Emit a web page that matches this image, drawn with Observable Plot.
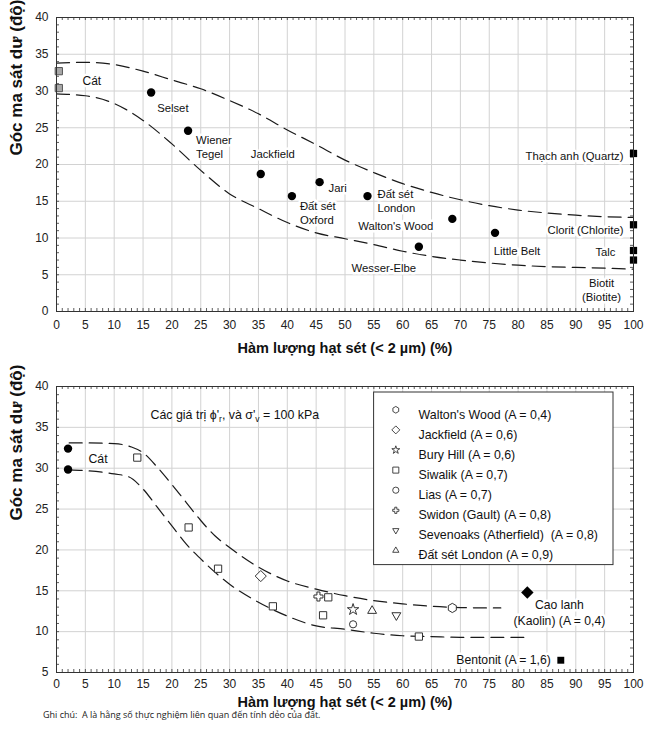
<!DOCTYPE html>
<html><head><meta charset="utf-8">
<script src="https://cdn.jsdelivr.net/npm/d3@7"></script>
<script src="https://cdn.jsdelivr.net/npm/@observablehq/plot@0.6"></script>
<style>
body{margin:0;background:#fff;}
#note{font-family:"Open Sans","Noto Sans",sans-serif;font-size:9px;margin:0 0 0 43px;line-height:14px;color:#222;white-space:pre;}
</style></head><body>
<div id="top"></div><div id="bottom"></div>
<div id="note">Ghi chú:  A là hằng số thực nghiệm liên quan đến tính dẻo của đất.</div>
<script>
// ---------------- DATA: top chart ----------------
const xTicks = [0,5,10,15,20,25,30,35,40,45,50,55,60,65,70,75,80,85,90,95,100];
const topYTicks = [0,5,10,15,20,25,30,35,40];
const botYTicks = [5,10,15,20,25,30,35,40];
const xTitle = "Hàm lượng hạt sét (< 2 µm) (%)";
const yTitle = "Góc ma sát dư (độ)";

const sandTopX = [0.4, 0.4];
const sandTopY = [32.7, 30.4];
const soilNames = ["Selset","Wiener Tegel","Jackfield","Đất sét Oxford","Jari","Đất sét London","Walton's Wood","Wesser-Elbe","Little Belt"];
const soilLabels = ["Selset","Wiener\nTegel","Jackfield","Đất sét\nOxford","Jari","Đất sét\nLondon","Walton's Wood","Wesser-Elbe","Little Belt"];
const soilClay = [16.4, 22.8, 35.4, 40.8, 45.6, 53.9, 68.6, 62.8, 76.0];
const soilPhi  = [29.8, 24.6, 18.7, 15.7, 17.6, 15.7, 12.6, 8.8, 10.7];
const mineralLabels = ["Thạch anh (Quartz)","Clorit (Chlorite)","Talc","Biotit\n(Biotite)"];
const mineralClay = [100, 100, 100, 100];
const mineralPhi  = [21.5, 11.8, 8.3, 7.0];

const topUpperX = [0,5,10,15,20,25,30,35,40,45,50,55,60,65,70,75,80,85,90,95,100];
const topUpperY = [33.8,33.9,33.6,32.7,31.5,30.3,28.7,26.9,24.7,22.7,20.6,18.9,17.4,16.2,15.2,14.4,13.8,13.4,13.1,12.9,12.8];
const topLowerX = [0,5,10,15,20,25,30,35,40,45,50,55,60,65,70,75,80,85,90,95,100];
const topLowerY = [29.6,29.35,28.3,26.0,22.8,19.2,16.0,14.0,12.1,10.7,9.9,9.1,8.2,7.5,7.0,6.6,6.3,6.1,6.0,5.9,5.75];

// ---------------- DATA: bottom chart ----------------
const sandBotX = [2.0, 2.0];
const sandBotY = [32.4, 29.85];
const seriesNames = ["Walton's Wood","Jackfield","Bury Hill","Siwalik","Lias","Swidon (Gault)","Sevenoaks (Atherfield)","Đất sét London"];
const seriesA = ["0,4","0,6","0,6","0,7","0,7","0,8","0,8","0,9"];
const seriesX = [[68.6],[35.4],[51.4],[14.0,22.9,28.0,37.5,46.2,47.1,62.8],[51.4],[45.4],[58.9],[54.7]];
const seriesY = [[12.9],[16.8],[12.7],[31.3,22.75,17.7,13.1,12.0,14.2,9.4],[10.9],[14.3],[12.0],[12.55]];
const kaolinX = [81.6], kaolinY = [14.8];
const bentoniteX = [87.4], bentoniteY = [6.5];
const kaolinLabel = "Cao lanh\n(Kaolin) (A = 0,4)";
const bentoniteLabel = "Bentonit (A = 1,6)";
const sandLabel = "Cát";
const noteText = "Các giá trị ϕ'_r, và σ'_v = 100 kPa";

const botUpperX = [2.2,5,10,13,15,17.5,20,22.5,25,27.5,30,35,40,45,50,55,60,65,70,75,77];
const botUpperY = [33.1,33.1,33.0,32.6,31.9,30.1,28.0,25.8,23.6,21.7,20.3,17.9,16.2,15.2,14.4,13.8,13.4,13.1,12.95,12.9,12.9];
const botLowerX = [2.2,5,10,12.5,15,17.5,20,22.5,25,27.5,30,35,40,45,50,55,60,65,70,75,81];
const botLowerY = [29.8,29.7,29.3,28.95,27.45,25.2,22.95,20.7,18.9,17.25,15.8,13.6,11.9,10.7,10.3,9.8,9.5,9.4,9.3,9.3,9.3];

// ---------------- STYLE / LAYOUT ----------------
const FONT = '"Liberation Sans", Arial, Helvetica, sans-serif';
const W = 661;
const triangleDown = {
  draw(context, size) {
    const s3 = Math.sqrt(3);
    const y = -Math.sqrt(size / (s3 * 3));
    context.moveTo(0, -y * 2);
    context.lineTo(-s3 * y, y);
    context.lineTo(s3 * y, y);
    context.closePath();
  }
};
const seriesSymbol = ["hexagon","diamond2","star","square","circle","cross",triangleDown,"triangle"];
const seriesR = [4.0, 5.0, 3.6, 4.1, 3.6, 3.8, 3.3, 3.3];
const legendR = [2.9, 3.6, 2.5, 3.4, 3.1, 2.6, 2.3, 2.3];

const halo = {stroke: "white", strokeWidth: 5, fill: "#111", fontSize: 11.3, lineHeight: 1.25};
const topLabelPos = {
  "Selset": {dx: 6, dy: 15, a: "start"},
  "Wiener Tegel": {dx: 8, dy: 15.5, a: "start"},
  "Jackfield": {dx: 12, dy: -20.4, a: "middle"},
  "Đất sét Oxford": {dx: 8, dy: 16.4, a: "start"},
  "Jari": {dx: 9, dy: 5, a: "start"},
  "Đất sét London": {dx: 10, dy: 4.2, a: "start"},
  "Walton's Wood": {dx: -56.5, dy: 6.5, a: "middle"},
  "Wesser-Elbe": {dx: -35, dy: 20.8, a: "middle"},
  "Little Belt": {dx: 22, dy: 18, a: "middle"}
};
const mineralPos = [
  {dx: -10, dy: 1.5, a: "end"},
  {dx: -10, dy: 4.5, a: "end"},
  {dx: -18, dy: 1.2, a: "end"},
  {dx: -32, dy: 29, a: "middle"}
];

function edgeTicks(xs, ys, iw, ih, len) {
  const o = {stroke: "#333", strokeWidth: 0.8};
  return [
    Plot.ruleX(xs, {x: d => d, insetTop: ih - len, ...o}),
    Plot.ruleX(xs, {x: d => d, insetBottom: ih - len, ...o}),
    Plot.ruleY(ys, {y: d => d, insetRight: iw - len, ...o}),
    Plot.ruleY(ys, {y: d => d, insetLeft: iw - len, ...o})
  ];
}
const dash = {stroke: "#1a1a1a", strokeWidth: 1.2, strokeDasharray: "13,7", curve: "monotone-x"};
const gridStyle = {stroke: "#d2d2d2", strokeOpacity: 1, strokeWidth: 1};

// ---------------- TOP CHART ----------------
{
  const H = 362, mt = 17, mb = 51, ml = 56, mr = 28;
  const iw = W - ml - mr, ih = H - mt - mb;
  const idx = soilNames.map((_, i) => i);
  const midx = mineralLabels.map((_, i) => i);
  const upper = topUpperX.map((x, i) => ({x, y: topUpperY[i]}));
  const lower = topLowerX.map((x, i) => ({x, y: topLowerY[i]}));
  const chart = Plot.plot({
    width: W, height: H, marginLeft: ml, marginRight: mr, marginTop: mt, marginBottom: mb,
    x: {domain: [0, 100]}, y: {domain: [0, 40]},
    style: {fontFamily: FONT, fontSize: "12px", color: "#222", background: "#fff", overflow: "visible"},
    marks: [
      Plot.gridX(xTicks, gridStyle),
      Plot.gridY(topYTicks, gridStyle),
      ...edgeTicks(d3.range(0, 101, 1), d3.range(0, 41, 1), iw, ih, 3),
      Plot.axisX({ticks: xTicks, tickSize: 0, tickPadding: 8.5, label: null, fontSize: 12}),
      Plot.axisY({ticks: topYTicks, tickSize: 0, tickPadding: 8, label: null, fontSize: 12}),
      Plot.line(upper, {x: "x", y: "y", ...dash}),
      Plot.line(lower, {x: "x", y: "y", ...dash}),
      ...idx.map(i => Plot.text([i], {x: i => soilClay[i], y: i => soilPhi[i], text: i => soilLabels[i],
        dx: topLabelPos[soilNames[i]].dx, dy: topLabelPos[soilNames[i]].dy, textAnchor: topLabelPos[soilNames[i]].a, ...halo})),
      ...midx.map(i => Plot.text([i], {x: i => mineralClay[i], y: i => mineralPhi[i], text: i => mineralLabels[i],
        dx: mineralPos[i].dx, dy: mineralPos[i].dy, textAnchor: mineralPos[i].a, ...halo})),
      Plot.text([0], {x: i => sandTopX[i], y: i => sandTopY[i], text: () => sandLabel, dx: 33, dy: 9, textAnchor: "middle", ...halo, fontSize: 12}),
      Plot.dot(sandTopX.map((_, i) => i), {x: i => sandTopX[i], y: i => sandTopY[i], symbol: "square", r: 4.1, fill: "#a8a8a8", stroke: "#555", strokeWidth: 1}),
      Plot.dot(idx, {x: i => soilClay[i], y: i => soilPhi[i], r: 4.2, fill: "#000"}),
      Plot.dot(midx, {x: i => mineralClay[i], y: i => mineralPhi[i], symbol: "square", r: 4.1, fill: "#000"}),
      Plot.frame({stroke: "#333", strokeWidth: 1}),
      Plot.text([xTitle], {text: d => d, frameAnchor: "bottom", dy: 41.5, fontWeight: "bold", fontSize: 14.5, fill: "#111"}),
      Plot.text([yTitle], {text: d => d, frameAnchor: "left", dx: -40, dy: -9, rotate: -90, fontWeight: "bold", fontSize: 17, fill: "#111"})
    ]
  });
  document.getElementById("top").append(chart);
}

// ---------------- BOTTOM CHART ----------------
{
  const H = 346, mt = 24, mb = 36, ml = 56, mr = 28;
  const iw = W - ml - mr, ih = H - mt - mb;
  const upper = botUpperX.map((x, i) => ({x, y: botUpperY[i]}));
  const lower = botLowerX.map((x, i) => ({x, y: botLowerY[i]}));
  const open = {fill: "white", stroke: "#333", strokeWidth: 1};
  const legendBox = {left: 317.6, right: 20, top: 6, bottom: 107.4};
  const rowY0 = 23.3, rowStep = 20.1, symDx = 339.3, txtDx = 362;
  const chart = Plot.plot({
    width: W, height: H, marginLeft: ml, marginRight: mr, marginTop: mt, marginBottom: mb,
    x: {domain: [0, 100]}, y: {domain: [5, 40]},
    style: {fontFamily: FONT, fontSize: "12px", color: "#222", background: "#fff", overflow: "visible"},
    marks: [
      Plot.gridX(xTicks, gridStyle),
      Plot.gridY(botYTicks, gridStyle),
      ...edgeTicks(d3.range(0, 101, 1), d3.range(5, 41, 1), iw, ih, 3),
      Plot.axisX({ticks: xTicks, tickSize: 0, tickPadding: 7, label: null, fontSize: 12}),
      Plot.axisY({ticks: botYTicks, tickSize: 0, tickPadding: 8, label: null, fontSize: 12}),
      Plot.line(upper, {x: "x", y: "y", ...dash}),
      Plot.line(lower, {x: "x", y: "y", ...dash}),
      // legend box
      Plot.rect([0], {insetLeft: legendBox.left, insetRight: legendBox.right, insetTop: legendBox.top, insetBottom: legendBox.bottom, fill: "white", stroke: "#333", strokeWidth: 1}),
      ...seriesNames.map((n, i) => Plot.dot([i], {frameAnchor: "top-left", dx: symDx, dy: rowY0 + rowStep * i, symbol: seriesSymbol[i], r: legendR[i], ...open, strokeWidth: 0.9})),
      ...seriesNames.map((n, i) => Plot.text([i], {frameAnchor: "top-left", dx: txtDx, dy: rowY0 + rowStep * i, text: i => seriesNames[i] + (i === 6 ? "\u00a0\u00a0" : " ") + "(A = " + seriesA[i] + ")", textAnchor: "start", fontSize: 12.4, fill: "#111"})),
      // annotation
      Plot.text([noteText], {frameAnchor: "top-left", dx: 94, dy: 24, text: d => d, textAnchor: "start", fontSize: 12.4, fill: "#111"}),
      // labels
      Plot.text([0], {x: i => sandBotX[i], y: i => sandBotY[i], text: () => sandLabel, dx: 30, dy: 9, textAnchor: "middle", ...halo, fontSize: 12.3}),
      Plot.text([0], {x: i => kaolinX[i], y: i => kaolinY[i], text: () => kaolinLabel, dx: 32, dy: 19.6, textAnchor: "middle", ...halo, fontSize: 12.2}),
      Plot.text([0], {x: i => bentoniteX[i], y: i => bentoniteY[i], text: () => bentoniteLabel, dx: -10, dy: -1, textAnchor: "end", ...halo, fontSize: 12.2}),
      // points
      Plot.dot(sandBotX.map((_, i) => i), {x: i => sandBotX[i], y: i => sandBotY[i], r: 4.2, fill: "#000"}),
      ...seriesNames.map((n, s) => Plot.dot(seriesX[s].map((_, j) => j), {x: j => seriesX[s][j], y: j => seriesY[s][j], symbol: seriesSymbol[s], r: seriesR[s], ...open})),
      Plot.dot([0], {x: i => kaolinX[i], y: i => kaolinY[i], symbol: "diamond2", r: 5.6, fill: "#000"}),
      Plot.dot([0], {x: i => bentoniteX[i], y: i => bentoniteY[i], symbol: "square", r: 3.9, fill: "#000"}),
      Plot.frame({stroke: "#333", strokeWidth: 1}),
      Plot.text([xTitle], {text: d => d, frameAnchor: "bottom", dy: 34, fontWeight: "bold", fontSize: 14.5, fill: "#111"}),
      Plot.text([yTitle], {text: d => d, frameAnchor: "left", dx: -40, dy: -9, rotate: -90, fontWeight: "bold", fontSize: 17, fill: "#111"})
    ]
  });
  // subscripts in the annotation (ϕ'r, σ'v)
  d3.select(chart).selectAll("text").each(function() {
    if (this.childElementCount > 0) return;
    const t = this.textContent;
    if (!t.includes("_")) return;
    const parts = t.split(/_(.)/);
    this.textContent = "";
    let prevSub = false;
    parts.forEach((p, k) => {
      const ts = document.createElementNS("http://www.w3.org/2000/svg", "tspan");
      ts.textContent = p;
      if (k % 2 === 1) { ts.setAttribute("dy", "3"); ts.setAttribute("font-size", "8.5"); prevSub = true; }
      else if (prevSub) { ts.setAttribute("dy", "-3"); prevSub = false; }
      this.appendChild(ts);
    });
  });
  document.getElementById("bottom").append(chart);
}
</script>
</body></html>
